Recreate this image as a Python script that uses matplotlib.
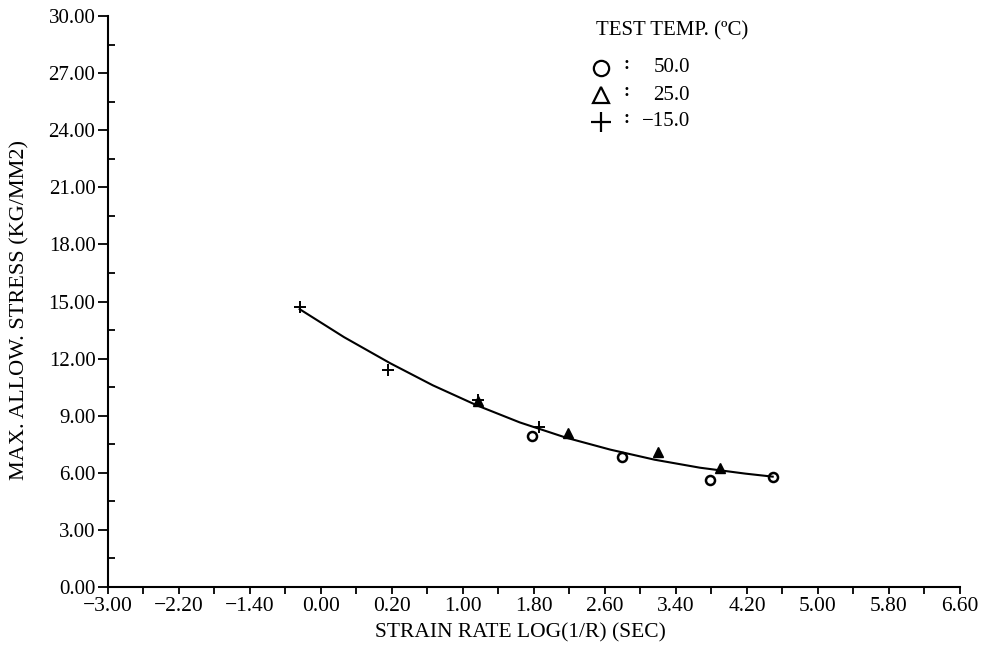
import matplotlib.pyplot as plt

# fitted curve
curve_x = [-0.84, -0.34, 0.18, 0.66, 1.16, 1.64, 2.16, 2.66, 3.16, 3.67, 4.18, 4.49]
curve_y = [14.6, 13.13, 11.76, 10.6, 9.54, 8.65, 7.85, 7.22, 6.69, 6.27, 5.96, 5.8]

# test points for each temperature
temp50_x = [1.78, 2.79, 3.78, 4.49]
temp50_y = [7.94, 6.83, 5.62, 5.78]
temp25_x = [1.17, 2.18, 3.20, 3.90]
temp25_y = [9.75, 8.09, 7.09, 6.25]
temp_m15_x = [-0.84, 0.155, 1.17, 1.86]
temp_m15_y = [14.72, 11.4, 9.83, 8.41]

x_ticks = [-3.0, -2.2, -1.4, -0.6, 0.2, 1.0, 1.8, 2.6, 3.4, 4.2, 5.0, 5.8, 6.6]
x_tick_labels = ['\u22123.00', '\u22122.20', '\u22121.40', '0.00', '0.20', '1.00', '1.80',
                 '2.60', '3.40', '4.20', '5.00', '5.80', '6.60']
y_ticks = [0, 3, 6, 9, 12, 15, 18, 21, 24, 27, 30]
y_tick_labels = ['%.2f' % v for v in y_ticks]

legend_labels = ['50.0', '25.0', '\u221215.0']

plt.rcParams['font.family'] = ['Liberation Serif', 'DejaVu Serif']

fig = plt.figure(figsize=(9.87, 6.54), dpi=100)
ax = fig.add_axes([0.1094, 0.1024, 0.8632, 0.873])

ax.plot(curve_x, curve_y, color='black', lw=1.5)
ax.plot(temp50_x, temp50_y, 'o', ms=6.5, mfc='none', mec='black', mew=1.8)
ax.plot(temp25_x, temp25_y, '^', ms=6.5, color='black')
ax.plot(temp_m15_x, temp_m15_y, '+', ms=8, color='black', mew=1.4)

ax.set_xlim(-3.0, 6.6)
ax.set_ylim(0, 30)
ax.set_xticks(x_ticks)
ax.set_xticklabels(x_tick_labels, fontsize=15.5)
ax.set_xticks([v + 0.4 for v in x_ticks[:-1]], minor=True)
ax.set_yticks(y_ticks)
ax.set_yticklabels(y_tick_labels, fontsize=15)
ax.set_yticks([v + 1.5 for v in y_ticks[:-1]], minor=True)

ax.tick_params(axis='x', which='both', direction='out', length=5, width=1.3, pad=2)
ax.tick_params(axis='y', which='major', direction='out', length=7, width=1.3, pad=2)
ax.tick_params(axis='y', which='minor', direction='in', length=5, width=1.3)

ax.spines['top'].set_visible(False)
ax.spines['right'].set_visible(False)
ax.spines['left'].set_linewidth(1.5)
ax.spines['bottom'].set_linewidth(1.5)

ax.set_xlabel('STRAIN RATE LOG(1/R) (SEC)', fontsize=15.5)
ax.xaxis.set_label_coords(0.484, -0.063)
ax.set_ylabel('MAX. ALLOW. STRESS (KG/MM2)', fontsize=16)
ax.yaxis.set_label_coords(-0.092, 0.485)

# hand-made legend in the top right
fig.text(596 / 987, 1 - 31 / 654, 'TEST TEMP. (\u00baC)', fontsize=15, va='center')
legend_markers = [('o', 'none', 11), ('^', 'none', 11), ('+', 'black', 14)]
for i, (m, fc, size) in enumerate(legend_markers):
    y = 1 - (68 + i * 27) / 654
    ax.plot([601 / 987], [y], m, ms=size, mfc=fc, mec='black', color='black', mew=1.6,
            transform=fig.transFigure, clip_on=False)
    fig.text(624 / 987, y + 0.006, ':', fontsize=13, fontweight='bold', va='center')
    fig.text(690 / 987, y, legend_labels[i], fontsize=15, va='center', ha='right')

plt.savefig('out.png', dpi=100)
